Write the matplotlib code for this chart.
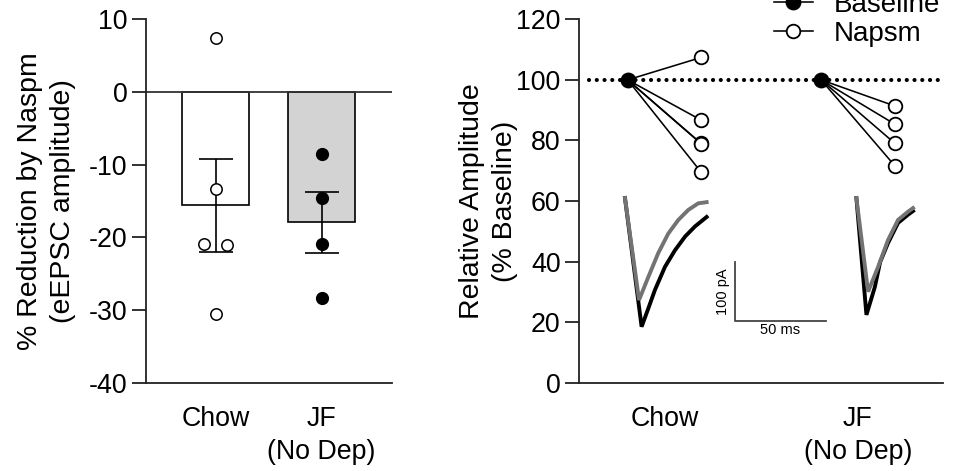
import matplotlib
matplotlib.use("Agg")
import matplotlib.pyplot as plt

plt.rcParams['font.family'] = ['Liberation Sans', 'DejaVu Sans']
plt.rcParams['font.size'] = 19
plt.rcParams['axes.unicode_minus'] = False

# ---- data -------------------------------------------------------------
groups = ["Chow", "JF\n(No Dep)"]

# % reduction of eEPSC amplitude by Naspm, per cell
chow_reduction = [7.4, -13.3, -20.9, -21.1, -30.5]
jf_reduction = [-8.6, -14.6, -20.9, -28.3]
chow_jitter = [0.0, 0.0, -0.105, 0.105, 0.0]
jf_jitter = [0.0, 0.0, 0.0, 0.0]
bar_means = [-15.6, -17.9]
bar_sems = [6.4, 4.2]

# relative amplitude (% of baseline), per cell
baseline_level = 100.0
chow_napsm = [107.4, 86.7, 79.0, 78.9, 69.5]
jf_napsm = [91.4, 85.4, 79.1, 71.7]

# example eEPSC traces (time in ms from trace start, current in pA)
chow_base_t = [0, 9.1, 12.8, 16.4, 21.9, 27.4, 32.9, 38.3, 44.7]
chow_base_i = [0, -217, -186, -155, -116, -88, -65, -48, -32]
chow_naspm_t = [0, 7.7, 12.8, 18.2, 23.7, 29.2, 34.7, 40.1, 44.7]
chow_naspm_i = [0, -172, -133, -93, -60, -37, -20, -9, -7]
jf_base_t = [0, 5.5, 10.1, 13.0, 17.3, 22.8, 28.3, 31.0]
jf_base_i = [0, -197, -150, -108, -76, -42, -28, -22]
jf_naspm_t = [0, 6.4, 11.9, 17.3, 22.8, 28.3, 31.0]
jf_naspm_i = [0, -158, -116, -71, -37, -23, -17]
trace_onsets = [8.2, 134.9]

TICK_FS = 19.3
LABEL_FS = 20.5
LEGEND_FS = 20

W, H = 961, 471
fig = plt.figure(figsize=(W / 100, H / 100), dpi=100)


def frac_rect(x0, y0, x1, y1):
    """pixel box (top-left origin) -> figure fraction rect"""
    return [x0 / W, 1 - y1 / H, (x1 - x0) / W, (y1 - y0) / H]


def style_axes(ax):
    for s in ("top", "right"):
        ax.spines[s].set_visible(False)
    for s in ("left", "bottom"):
        ax.spines[s].set_linewidth(1.3)
        ax.spines[s].set_color("#222222")
    ax.tick_params(axis="y", length=10, width=1.3, pad=3.4, color="#222222",
                   labelsize=TICK_FS)
    ax.tick_params(axis="x", length=0, pad=17, labelsize=TICK_FS)
    for lab in ax.get_xticklabels():
        lab.set_linespacing(1.32)


# ---- left panel: % reduction bars ------------------------------------
ax1 = fig.add_axes(frac_rect(146, 19.3, 392, 382.7))
xpos = [0, 1]
ax1.bar(xpos, bar_means, width=0.632, color=["white", "#d3d3d3"],
        edgecolor="black", linewidth=1.2, zorder=2)
ax1.errorbar(xpos, bar_means, yerr=bar_sems, fmt="none", ecolor="black",
             elinewidth=1.2, capsize=12, capthick=1.2, zorder=3)
ax1.axhline(0, color="#333333", linewidth=1.3, zorder=2.5)
ax1.plot([xpos[0] + j for j in chow_jitter], chow_reduction, "o",
         ms=8.2, mfc="white", mec="black", mew=1.1, zorder=4)
ax1.plot([xpos[1] + j for j in jf_jitter], jf_reduction, "o",
         ms=8.4, mfc="black", mec="black", mew=1.1, zorder=4)
ax1.set_xlim(-0.656, 1.665)
ax1.set_ylim(-40, 10)
ax1.set_yticks([-40, -30, -20, -10, 0, 10])
ax1.set_xticks(xpos)
ax1.set_xticklabels(groups)
style_axes(ax1)
ax1.set_ylabel("% Reduction by Naspm\n(eEPSC amplitude)", fontsize=LABEL_FS,
               linespacing=1.36)
ax1.yaxis.set_label_coords(-0.285, 0.5)

# ---- right panel: before/after lines ---------------------------------
ax2 = fig.add_axes(frac_rect(579.3, 19.3, 943, 382.7))
off = 0.19
ax2.axhline(baseline_level, xmin=0.027, color="black", linewidth=3.0,
            linestyle=(0, (0.01, 1.85)), dash_capstyle="round", zorder=1)
for xc, vals in zip(xpos, [chow_napsm, jf_napsm]):
    for v in vals:
        ax2.plot([xc - off, xc + off], [baseline_level, v], "-",
                 color="black", linewidth=1.15, zorder=2)
    ax2.plot([xc + off] * len(vals), vals, "o", ms=9.8, mfc="white",
             mec="black", mew=1.3, zorder=3)
    ax2.plot([xc - off], [baseline_level], "o", ms=10.4, mfc="black",
             mec="black", zorder=4)
ax2.set_xlim(-0.44, 1.44)
ax2.set_ylim(0, 120)
ax2.set_yticks(range(0, 121, 20))
ax2.set_xticks(xpos)
ax2.set_xticklabels(groups)
style_axes(ax2)
ax2.set_ylabel("Relative Amplitude\n(% Baseline)", fontsize=LABEL_FS,
               linespacing=1.36)
ax2.yaxis.set_label_coords(-0.168, 0.5)

h_base, = ax2.plot([], [], "-o", color="black", ms=10.4, mfc="black",
                   linewidth=1.15)
h_nap, = ax2.plot([], [], "-o", color="black", ms=9.8, mfc="white",
                  mec="black", mew=1.3, linewidth=1.15)
ax2.legend([h_base, h_nap], ["Baseline", "Napsm"], loc="upper left",
           bbox_to_anchor=(774 / W, 1 + 8 / H),
           bbox_transform=fig.transFigure, frameon=False, borderpad=0,
           borderaxespad=0, handlelength=1.4, handletextpad=0.75,
           labelspacing=0.1, fontsize=LEGEND_FS)

# ---- inset: example traces and scale bar -----------------------------
ax3 = fig.add_axes(frac_rect(610, 190, 930, 340))
ax3.set_xlim(0, 175.2)
ax3.set_ylim(-239.4, 13.5)
ax3.axis("off")
ax3.patch.set_alpha(0)
for onset, (bt, bi, nt, ni) in zip(trace_onsets, [
        (chow_base_t, chow_base_i, chow_naspm_t, chow_naspm_i),
        (jf_base_t, jf_base_i, jf_naspm_t, jf_naspm_i)]):
    ax3.plot([onset + t for t in bt], bi, color="black", linewidth=2.8,
             solid_joinstyle="miter")
    ax3.plot([onset + t for t in nt], ni, color="#737373", linewidth=2.8,
             solid_joinstyle="miter")

bar_x0, bar_y0 = 68.3, -207.4
ax3.plot([bar_x0, bar_x0, bar_x0 + 50], [bar_y0 + 100, bar_y0, bar_y0],
         color="#444444", linewidth=1.3)
ax3.text(bar_x0 - 2.6, bar_y0 + 50, "100 pA", rotation=90, ha="right",
         va="center", fontsize=10.5)
ax3.text(bar_x0 + 25, bar_y0 - 4, "50 ms", ha="center", va="top",
         fontsize=10.5)

fig.savefig("out.png", dpi=100)
